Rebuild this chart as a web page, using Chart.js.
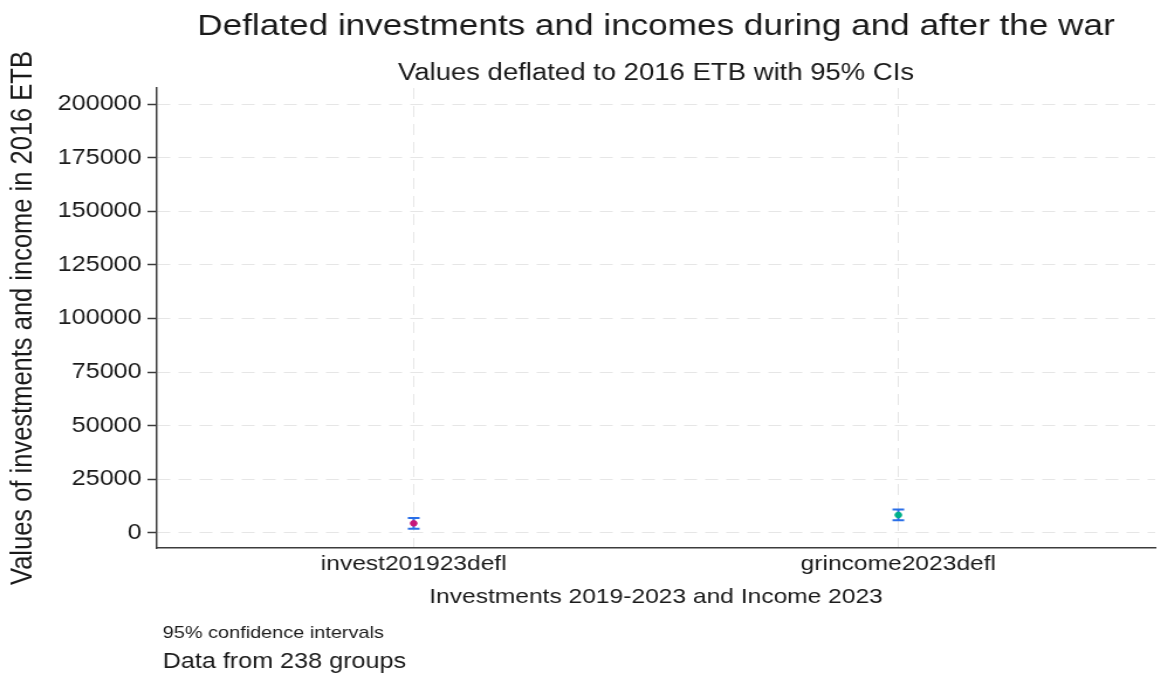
<!DOCTYPE html>
<html>
<head>
<meta charset="utf-8">
<title>Deflated investments and incomes</title>
<script src="https://cdn.jsdelivr.net/npm/chart.js@4"></script>
<style>
  html, body { margin: 0; padding: 0; background: #fff; overflow: hidden; }
  /* the plot is laid out on a narrower canvas and widened to the page width */
  #wrap { width: 992px; height: 679px; transform: scaleX(1.1704); transform-origin: 0 0; }
</style>
</head>
<body>
<div id="wrap"><canvas id="chart" width="992" height="679"></canvas></div>
<script>
const categories = ['invest201923defl', 'grincome2023defl'];
const means = [4500, 8400];
const ciLow = [2000, 5900];
const ciHigh = [7000, 10900];
const yTicks = [0, 25000, 50000, 75000, 100000, 125000, 150000, 175000, 200000];

const pointColors = ['#c8177a', '#00b08a'];
const ciColor = '#2a6fe8';
const textColor = '#1a1a1a';
const axisColor = '#3c3c3c';
const gridColor = '#e6e6e6';
const fontFamily = '"Liberation Sans", Arial, sans-serif';

// rcap-style confidence intervals, drawn under the point markers
const errorBars = {
  id: 'errorBars',
  beforeDatasetsDraw(chart) {
    const { ctx, scales: { x, y } } = chart;
    ctx.save();
    ctx.strokeStyle = ciColor;
    ctx.lineWidth = 2;
    categories.forEach((c, i) => {
      const px = x.getPixelForValue(i + 1);
      const top = y.getPixelForValue(ciHigh[i]);
      const bot = y.getPixelForValue(ciLow[i]);
      ctx.beginPath();
      ctx.moveTo(px, top); ctx.lineTo(px, bot);
      ctx.moveTo(px - 5, top); ctx.lineTo(px + 5, top);
      ctx.moveTo(px - 5, bot); ctx.lineTo(px + 5, bot);
      ctx.stroke();
    });
    ctx.restore();
  }
};

// titles centred on the plot region, notes under the x axis
const textLayer = {
  id: 'textLayer',
  afterDraw(chart) {
    const { ctx, chartArea } = chart;
    const cx = (chartArea.left + chartArea.right) / 2;
    ctx.save();
    ctx.fillStyle = textColor;
    ctx.textBaseline = 'alphabetic';
    ctx.textAlign = 'center';
    ctx.font = '30px ' + fontFamily;
    ctx.fillText('Deflated investments and incomes during and after the war', cx, 35);
    ctx.font = '23.5px ' + fontFamily;
    ctx.fillText('Values deflated to 2016 ETB with 95% CIs', cx, 80);
    ctx.textAlign = 'left';
    ctx.font = '17px ' + fontFamily;
    ctx.fillText('95% confidence intervals', 139, 638);
    ctx.font = '21.5px ' + fontFamily;
    ctx.fillText('Data from 238 groups', 139, 668);
    ctx.restore();
  }
};

new Chart(document.getElementById('chart'), {
  type: 'scatter',
  data: {
    datasets: [{
      data: means.map((m, i) => ({ x: i + 1, y: m })),
      pointBackgroundColor: pointColors,
      pointBorderColor: pointColors,
      pointRadius: 2.8,
      pointBorderWidth: 1
    }]
  },
  options: {
    responsive: false,
    animation: false,
    devicePixelRatio: 1,
    layout: { padding: { top: 88, right: 2, bottom: 67, left: 0 } },
    plugins: { legend: { display: false }, tooltip: { enabled: false } },
    scales: {
      x: {
        type: 'linear',
        min: 0.47,
        max: 2.53,
        afterBuildTicks: (scale) => { scale.ticks = categories.map((c, i) => ({ value: i + 1 })); },
        afterFit: (scale) => { scale.height = 64; },
        ticks: {
          callback: (v) => categories[v - 1],
          font: { family: fontFamily, size: 21 },
          color: textColor,
          padding: 4,
          maxRotation: 0
        },
        grid: { color: gridColor, lineWidth: 1, drawTicks: false },
        border: { display: true, color: axisColor, width: 1.5, dash: [11, 7] },
        title: {
          display: true,
          text: 'Investments 2019-2023 and Income 2023',
          font: { family: fontFamily, size: 21 },
          color: textColor,
          padding: { top: 0, bottom: 2 }
        }
      },
      y: {
        type: 'linear',
        min: -7000,
        max: 207500,
        afterBuildTicks: (scale) => { scale.ticks = yTicks.map((v) => ({ value: v })); },
        afterFit: (scale) => { scale.width = 134; },
        ticks: {
          callback: (v) => String(v),
          font: { family: fontFamily, size: 21.5 },
          color: textColor,
          padding: 5
        },
        grid: { color: gridColor, lineWidth: 1, tickLength: 8, tickColor: axisColor, tickWidth: 1.5 },
        border: { display: true, color: axisColor, width: 1.5, dash: [11, 7] },
        title: {
          display: true,
          text: 'Values of investments and income in 2016 ETB',
          font: { family: fontFamily, size: 25.5 },
          color: textColor,
          padding: { top: 5, bottom: 0 }
        }
      }
    }
  },
  plugins: [errorBars, textLayer]
});
</script>
</body>
</html>
